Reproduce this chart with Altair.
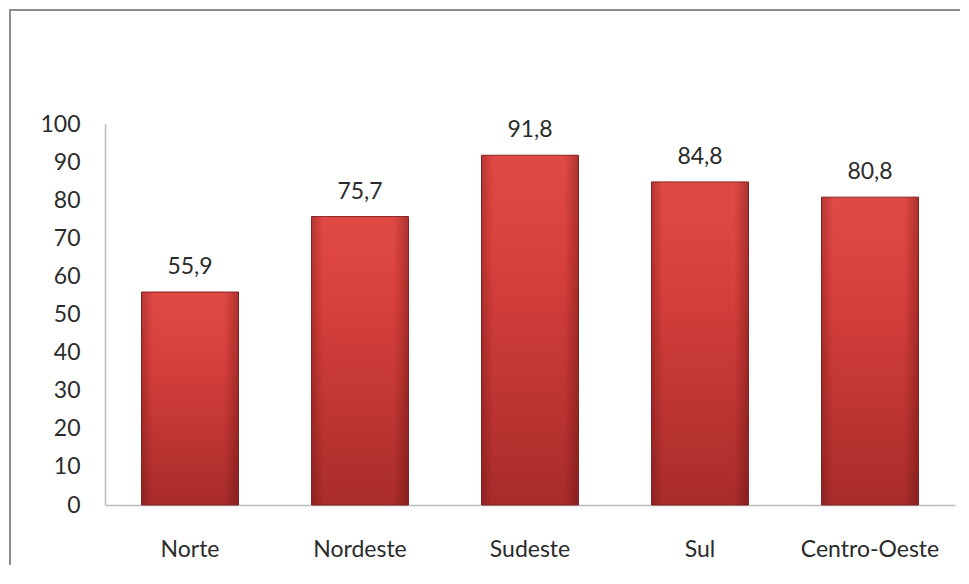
import altair as alt
import pandas as pd

regions = ["Norte", "Nordeste", "Sudeste", "Sul", "Centro-Oeste"]
values = [55.9, 75.7, 91.8, 84.8, 80.8]
labels = ["55,9", "75,7", "91,8", "84,8", "80,8"]
y_ticks = [0, 10, 20, 30, 40, 50, 60, 70, 80, 90, 100]

df = pd.DataFrame({"regiao": regions, "valor": values, "rotulo": labels})

FONT = "Lato"
FS = 23
TXT = "#2b2b2b"

x_enc = alt.X("regiao:N", sort=regions, title=None,
              scale=alt.Scale(paddingInner=0.43, paddingOuter=0.215),
              axis=alt.Axis(labelAngle=0, labelFontSize=FS, labelFont=FONT, labelColor=TXT,
                            labelPadding=33, ticks=False, domainColor="#bbbbbb", domainWidth=1.5,
                            labelOverlap=False))
y_enc = alt.Y("valor:Q", title=None,
              scale=alt.Scale(domain=[0, 100], nice=False),
              axis=alt.Axis(values=y_ticks, tickCount=11, labelFontSize=FS, labelFont=FONT,
                            labelColor=TXT, labelPadding=25, ticks=False, grid=False,
                            domainColor="#bbbbbb", domainWidth=1.5, labelOverlap=False,
                            labelBound=False))

base = alt.Chart(df)

bars = base.mark_bar(
    color=alt.Gradient(gradient="linear", x1=0, y1=0, x2=0, y2=1,
                       stops=[alt.GradientStop(color="#e04a45", offset=0),
                              alt.GradientStop(color="#d8403c", offset=0.3),
                              alt.GradientStop(color="#a82c2a", offset=1)]),
    stroke="#8a2422", strokeWidth=1
).encode(x=x_enc, y=y_enc)

shade = base.mark_bar(
    color=alt.Gradient(gradient="linear", x1=0, y1=0, x2=1, y2=0,
                       stops=[alt.GradientStop(color="rgba(60,0,0,0.25)", offset=0),
                              alt.GradientStop(color="rgba(60,0,0,0)", offset=0.12),
                              alt.GradientStop(color="rgba(60,0,0,0)", offset=0.85),
                              alt.GradientStop(color="rgba(60,0,0,0.3)", offset=1)])
).encode(x=x_enc, y=y_enc)

text = base.mark_text(baseline="alphabetic", dy=-18, fontSize=FS, font=FONT, color=TXT).encode(
    x=x_enc, y=y_enc, text="rotulo:N")

frame_left = alt.Chart(df).mark_rule(color="#8c8c8c", strokeWidth=2).encode(
    x=alt.value(-95), y=alt.value(-114), y2=alt.value(600))
frame_top = alt.Chart(df).mark_rule(color="#8c8c8c", strokeWidth=2).encode(
    x=alt.value(-96), x2=alt.value(900), y=alt.value(-114))

chart = alt.layer(bars, shade, text, frame_left, frame_top).properties(
    width=850, height=381,
    autosize=alt.AutoSizeParams(type="none"),
    padding={"left": 97, "top": 116, "right": 5, "bottom": 60},
).configure_view(stroke=None).configure_axis(labelOverlap=False)

chart.save("out.html", embed_options={"renderer": "svg", "actions": False})
